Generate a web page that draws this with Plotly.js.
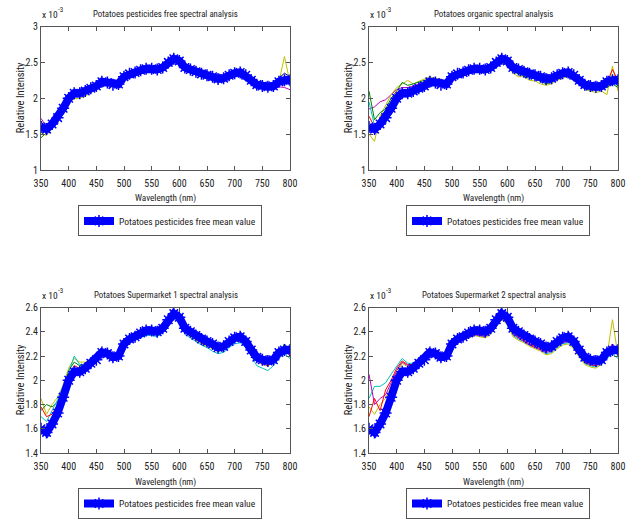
<!DOCTYPE html>
<html>
<head>
<meta charset="utf-8">
<script src="https://cdn.plot.ly/plotly-3.0.1.min.js"></script>
<style>html,body{margin:0;padding:0;background:#fff;}#chart{width:637px;height:519px;}</style>
</head>
<body>
<div id="chart"></div>
<script>
// Wavelength (nm)
const wavelength = [350,360,370,380,390,400,410,420,430,440,450,460,470,480,490,500,510,520,530,540,550,560,570,580,590,600,610,620,630,640,650,660,670,680,690,700,710,720,730,740,750,760,770,780,790,800];

// Mean of pesticides-free potatoes (x 10^-3)
const meanFree = [1.60,1.57,1.64,1.73,1.86,2.00,2.07,2.07,2.10,2.14,2.17,2.23,2.22,2.19,2.20,2.30,2.34,2.36,2.39,2.41,2.41,2.40,2.43,2.50,2.55,2.52,2.43,2.40,2.37,2.34,2.32,2.30,2.27,2.28,2.32,2.35,2.36,2.32,2.25,2.19,2.17,2.16,2.17,2.23,2.25,2.25];

// Panel 1: pesticides free samples
const freeS1 = [1.52,1.48,1.60,1.70,1.82,1.95,1.99,2.00,2.03,2.08,2.12,2.20,2.21,2.18,2.19,2.28,2.33,2.35,2.38,2.40,2.40,2.39,2.42,2.49,2.55,2.52,2.43,2.40,2.37,2.34,2.32,2.30,2.27,2.28,2.32,2.34,2.35,2.31,2.24,2.18,2.17,2.15,2.20,2.23,2.58,2.22];
const freeS2 = [1.72,1.60,1.66,1.74,1.87,2.01,2.08,2.07,2.10,2.14,2.17,2.22,2.22,2.19,2.20,2.30,2.34,2.36,2.39,2.41,2.41,2.40,2.43,2.50,2.55,2.52,2.43,2.40,2.37,2.34,2.32,2.30,2.27,2.28,2.31,2.34,2.35,2.31,2.23,2.16,2.14,2.12,2.13,2.16,2.15,2.12];
const freeS3 = [1.68,1.55,1.65,1.75,1.88,2.02,2.09,2.08,2.11,2.15,2.18,2.24,2.23,2.20,2.21,2.31,2.35,2.37,2.40,2.42,2.42,2.41,2.44,2.51,2.57,2.53,2.44,2.41,2.38,2.35,2.33,2.31,2.28,2.29,2.33,2.36,2.37,2.33,2.26,2.20,2.18,2.18,2.21,2.28,2.35,2.30];
const freeS4 = [1.45,1.52,1.62,1.72,1.85,1.99,2.06,2.06,2.09,2.13,2.16,2.22,2.21,2.18,2.19,2.29,2.33,2.35,2.38,2.40,2.40,2.39,2.42,2.49,2.54,2.51,2.42,2.39,2.36,2.33,2.31,2.29,2.26,2.27,2.31,2.34,2.35,2.31,2.24,2.18,2.16,2.15,2.18,2.22,2.30,2.20];

// Panel 2: organic samples
const orgS1 = [1.85,1.88,1.95,1.98,2.05,2.12,2.15,2.15,2.17,2.20,2.22,2.26,2.25,2.22,2.22,2.30,2.34,2.36,2.38,2.40,2.40,2.38,2.41,2.48,2.52,2.48,2.38,2.36,2.33,2.30,2.28,2.26,2.23,2.25,2.30,2.33,2.34,2.29,2.22,2.16,2.14,2.13,2.15,2.20,2.30,2.20];
const orgS2 = [1.50,1.40,1.75,1.90,2.05,2.15,2.20,2.25,2.20,2.24,2.27,2.30,2.28,2.25,2.24,2.30,2.36,2.38,2.38,2.39,2.38,2.36,2.40,2.46,2.50,2.45,2.35,2.30,2.30,2.25,2.24,2.20,2.18,2.20,2.25,2.28,2.30,2.25,2.18,2.12,2.10,2.08,2.10,2.05,2.45,2.10];
const orgS3 = [2.10,1.70,1.80,1.85,2.00,2.10,2.22,2.18,2.20,2.22,2.25,2.28,2.26,2.22,2.23,2.31,2.35,2.37,2.38,2.40,2.39,2.37,2.40,2.47,2.52,2.47,2.37,2.34,2.32,2.28,2.27,2.24,2.20,2.22,2.27,2.30,2.32,2.27,2.20,2.14,2.12,2.11,2.13,2.15,2.20,2.15];
const orgS4 = [1.75,1.60,1.72,1.80,1.95,2.08,2.12,2.12,2.14,2.17,2.20,2.25,2.24,2.21,2.21,2.30,2.35,2.37,2.39,2.41,2.41,2.39,2.42,2.49,2.54,2.50,2.41,2.38,2.35,2.32,2.30,2.28,2.25,2.26,2.30,2.33,2.35,2.30,2.23,2.17,2.15,2.14,2.16,2.22,2.40,2.25];
const orgS5 = [1.95,1.62,1.70,1.78,1.92,2.05,2.10,2.10,2.13,2.16,2.19,2.24,2.23,2.20,2.21,2.30,2.34,2.36,2.38,2.40,2.40,2.38,2.41,2.48,2.53,2.49,2.40,2.37,2.34,2.31,2.29,2.27,2.24,2.25,2.29,2.32,2.33,2.29,2.22,2.16,2.14,2.13,2.15,2.18,2.25,2.18];

// Panel 3: supermarket 1 samples
const sm1S1 = [1.85,1.72,1.80,1.86,1.96,2.10,2.18,2.15,2.15,2.17,2.20,2.24,2.23,2.20,2.20,2.28,2.32,2.34,2.36,2.38,2.38,2.37,2.40,2.47,2.52,2.48,2.39,2.36,2.33,2.30,2.28,2.26,2.24,2.25,2.29,2.32,2.33,2.29,2.22,2.16,2.13,2.12,2.14,2.20,2.24,2.22];
const sm1S2 = [1.75,1.80,1.78,1.82,1.93,2.08,2.15,2.12,2.14,2.16,2.19,2.23,2.22,2.19,2.19,2.28,2.33,2.35,2.37,2.39,2.39,2.38,2.41,2.48,2.53,2.49,2.40,2.37,2.34,2.31,2.29,2.27,2.24,2.25,2.30,2.33,2.34,2.30,2.23,2.17,2.15,2.14,2.15,2.21,2.30,2.23];
const sm1S3 = [1.70,1.66,1.75,1.84,1.95,2.06,2.20,2.13,2.13,2.15,2.18,2.22,2.21,2.18,2.19,2.27,2.31,2.33,2.35,2.37,2.37,2.36,2.39,2.46,2.51,2.47,2.38,2.35,2.32,2.29,2.27,2.24,2.22,2.23,2.27,2.30,2.31,2.27,2.20,2.12,2.10,2.08,2.12,2.18,2.22,2.18];
const sm1S4 = [1.78,1.70,1.72,1.80,1.90,2.04,2.12,2.10,2.12,2.15,2.18,2.22,2.22,2.19,2.19,2.28,2.32,2.34,2.37,2.39,2.39,2.38,2.41,2.48,2.53,2.49,2.40,2.37,2.34,2.31,2.29,2.27,2.25,2.26,2.30,2.33,2.34,2.30,2.22,2.16,2.14,2.12,2.16,2.22,2.26,2.20];

// Panel 4: supermarket 2 samples
const sm2S1 = [1.85,1.95,1.95,1.98,2.05,2.12,2.18,2.14,2.14,2.16,2.19,2.23,2.22,2.19,2.19,2.27,2.32,2.33,2.35,2.37,2.37,2.36,2.39,2.46,2.51,2.47,2.37,2.34,2.32,2.29,2.27,2.25,2.22,2.23,2.27,2.30,2.31,2.27,2.20,2.14,2.12,2.11,2.13,2.18,2.22,2.18];
const sm2S2 = [2.05,1.80,1.85,1.88,1.98,2.08,2.15,2.12,2.13,2.15,2.18,2.22,2.21,2.18,2.19,2.27,2.31,2.33,2.35,2.37,2.37,2.36,2.39,2.46,2.51,2.47,2.38,2.35,2.32,2.29,2.27,2.25,2.23,2.24,2.28,2.31,2.32,2.28,2.21,2.15,2.13,2.12,2.16,2.24,2.30,2.22];
const sm2S3 = [1.78,1.72,1.80,1.85,1.95,2.06,2.14,2.11,2.12,2.15,2.18,2.22,2.21,2.18,2.18,2.26,2.31,2.33,2.35,2.37,2.36,2.35,2.38,2.45,2.50,2.46,2.36,2.33,2.31,2.28,2.26,2.24,2.21,2.22,2.26,2.29,2.30,2.26,2.19,2.13,2.11,2.10,2.13,2.20,2.50,2.20];
const sm2S4 = [1.70,1.85,1.75,1.92,2.00,2.10,2.16,2.13,2.13,2.16,2.19,2.23,2.22,2.19,2.19,2.28,2.32,2.34,2.36,2.38,2.38,2.37,2.40,2.47,2.52,2.48,2.39,2.36,2.33,2.30,2.28,2.26,2.24,2.25,2.29,2.32,2.33,2.29,2.22,2.15,2.13,2.12,2.14,2.21,2.26,2.24];

const panelTitles = ["Potatoes pesticides free spectral analysis","Potatoes organic spectral analysis","Potatoes Supermarket 1 spectral analysis","Potatoes Supermarket 2 spectral analysis"];
const meanName = "Potatoes pesticides free mean value";
const xTicks = [350,400,450,500,550,600,650,700,750,800];
const topYTicks = [1,1.5,2,2.5,3];
const bottomYTicks = [1.4,1.6,1.8,2,2.2,2.4,2.6];

const panels = [
  {samples:[freeS1,freeS2,freeS3,freeS4], colors:["#bfbf00","#bf00bf","#00007f","#008000"]},
  {samples:[orgS1,orgS2,orgS3,orgS4,orgS5], colors:["#bf00bf","#bfbf00","#008000","#ff0000","#00bfbf"]},
  {samples:[sm1S1,sm1S2,sm1S3,sm1S4], colors:["#bfbf00","#008000","#00bfbf","#ff0000"]},
  {samples:[sm2S1,sm2S2,sm2S3,sm2S4], colors:["#00bfbf","#bf00bf","#bfbf00","#ff0000"]}
];

const FONT = "'Roboto Condensed', 'Liberation Sans', Arial, sans-serif";
const W = 637, H = 519;
const px = v => v / W;
const py = v => 1 - v / H;

// plot areas in pixels [x0,x1,y0(top),y1(bottom)]
const areas = [[41,290,27,173],[369,618,27,173],[41,290,313,461],[369,618,313,461]];

const traces = [];
panels.forEach((p, i) => {
  const ax = i === 0 ? "" : String(i + 1);
  p.samples.forEach((s, j) => {
    traces.push({x: wavelength, y: s, type: "scatter", mode: "lines", xaxis: "x" + ax, yaxis: "y" + ax,
      line: {color: p.colors[j], width: 1}, showlegend: false, hoverinfo: "skip"});
  });
  traces.push({x: wavelength, y: meanFree, type: "scatter", mode: "lines+markers", name: meanName,
    xaxis: "x" + ax, yaxis: "y" + ax, legend: i === 0 ? "legend" : "legend" + (i + 1),
    line: {color: "#0000ff", width: 8},
    marker: {symbol: "asterisk-open", size: 10, color: "#0000ff", line: {color: "#0000ee", width: 1.5}},
    showlegend: true});
});

const layout = {
  width: W, height: H, margin: {l: 0, r: 0, t: 0, b: 0},
  paper_bgcolor: "#fff", plot_bgcolor: "#fff",
  font: {family: FONT, size: 10, color: "#222"},
  showlegend: true, annotations: []
};

areas.forEach((a, i) => {
  const ax = i === 0 ? "" : String(i + 1);
  const top = i < 2;
  layout["xaxis" + ax] = {domain: [px(a[0]), px(a[1])], range: [350, 800], anchor: "y" + ax,
    tickvals: xTicks, ticks: "inside", ticklen: 4, tickcolor: "#555", showline: true, linecolor: "#555", linewidth: 1,
    mirror: "ticks", showgrid: false, zeroline: false, ticklabelstandoff: 4,
    tickfont: {size: 10, family: FONT, color: "#222"}};
  layout["yaxis" + ax] = {domain: [py(a[3]), py(a[2])], range: top ? [1, 3] : [1.4, 2.6], anchor: "x" + ax,
    tickvals: top ? topYTicks : bottomYTicks, ticks: "inside", ticklen: 4, tickcolor: "#555", showline: true,
    linecolor: "#555", linewidth: 1, mirror: "ticks", showgrid: false, zeroline: false,
    tickfont: {size: 10, family: FONT, color: "#222"}};
  const cx = (a[0] + a[1]) / 2;
  layout.annotations.push({text: panelTitles[i], x: px(cx), y: py(a[2] - 13), xref: "paper", yref: "paper",
    xanchor: "center", yanchor: "middle", showarrow: false, font: {size: 8.8, family: FONT, color: "#222"}});
  layout.annotations.push({text: "Wavelength (nm)", x: px(cx), y: py(a[3] + 29), xref: "paper", yref: "paper",
    xanchor: "center", yanchor: "middle", showarrow: false, font: {size: 9.2, family: FONT, color: "#222"}});
  layout.annotations.push({text: "Relative Intensity", x: px(a[0] - 21), y: py((a[2] + a[3]) / 2), xref: "paper", yref: "paper",
    xanchor: "center", yanchor: "middle", textangle: -90, showarrow: false, font: {size: 10.5, family: FONT, color: "#222"}});
  layout.annotations.push({text: "x 10", x: px(a[0] - 1), y: py(a[2] - 5), xref: "paper", yref: "paper",
    xanchor: "left", yanchor: "bottom", showarrow: false, font: {size: 9.5, family: FONT, color: "#222"}});
  layout.annotations.push({text: "-3", x: px(a[0] + 15), y: py(a[2] - 11), xref: "paper", yref: "paper",
    xanchor: "left", yanchor: "bottom", showarrow: false, font: {size: 7, family: FONT, color: "#222"}});
  const lg = i === 0 ? "legend" : "legend" + (i + 1);
  layout[lg] = {x: px(a[0] + 37), y: py(a[3] + 36), xanchor: "left", yanchor: "top", xref: "paper", yref: "paper",
    bgcolor: "#fff", bordercolor: "#555", borderwidth: 1, font: {size: 9.5, family: FONT, color: "#222"},
    itemwidth: 30, tracegroupgap: 0};
});

Plotly.newPlot("chart", traces, layout, {staticPlot: true, displayModeBar: false});
</script>
</body>
</html>
